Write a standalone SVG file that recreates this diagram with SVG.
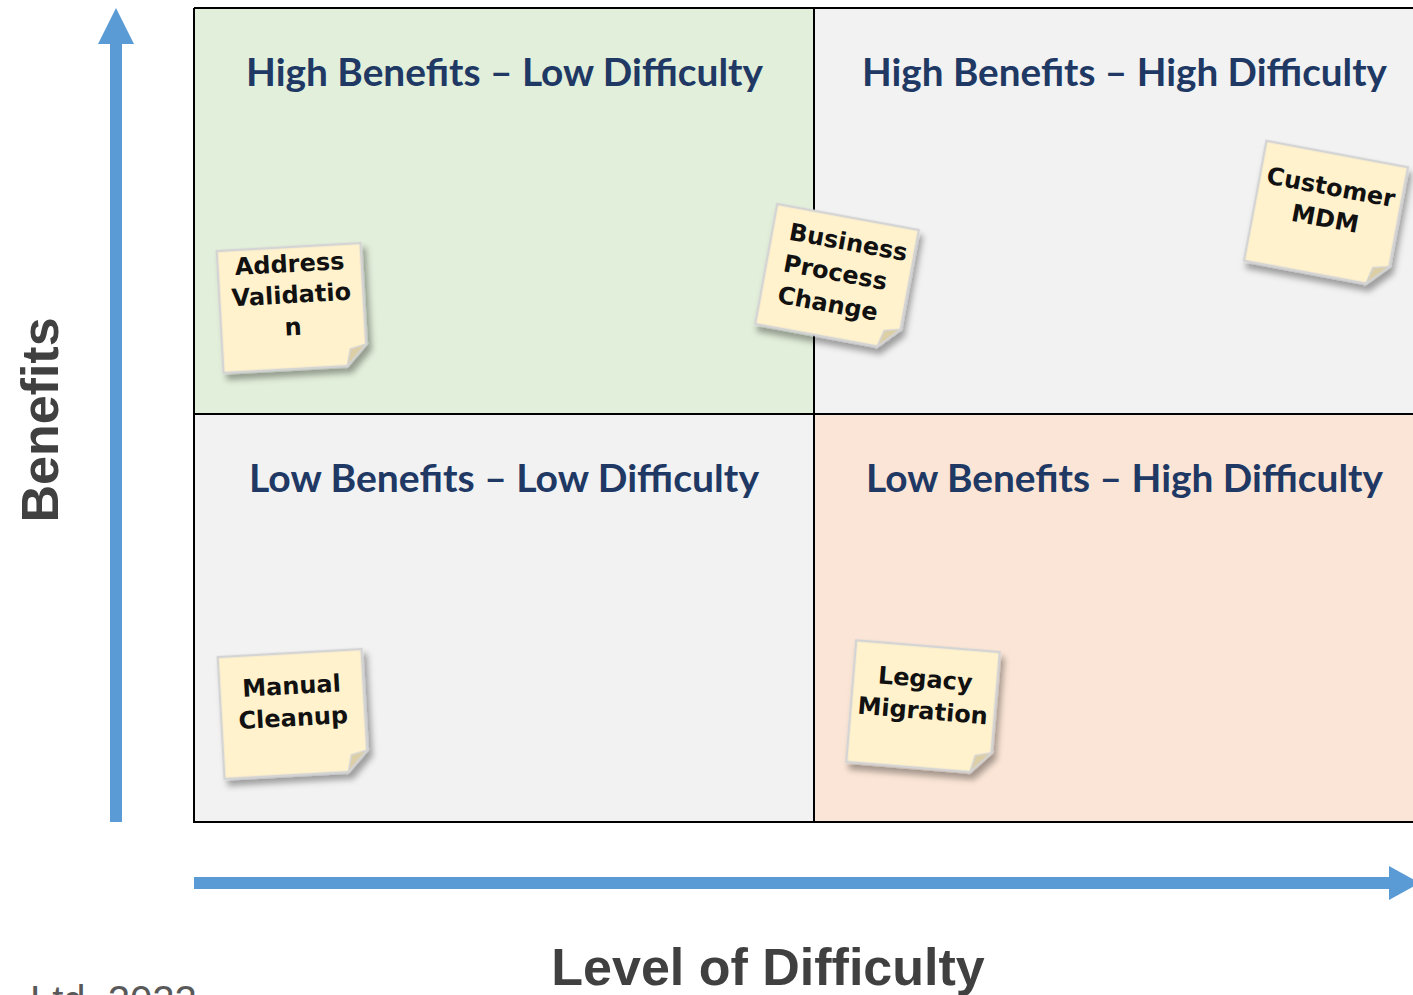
<svg xmlns="http://www.w3.org/2000/svg" width="1413" height="995" viewBox="0 0 1413 995">
<defs>
<style>
.title{font-family:Lato,"Liberation Sans",sans-serif;font-weight:bold;font-size:38px;fill:#203864;text-anchor:middle}
.axis{font-family:"Liberation Sans",Arial,sans-serif;font-weight:bold;font-size:52px;fill:#404040;text-anchor:middle}
.note{fill:#FFF2CC;stroke:#D4D4D4;stroke-width:2.5}
.fold{fill:#DCCFA6;stroke:#D4D4D4;stroke-width:1.5}
.nt{font-family:"DejaVu Sans",sans-serif;font-weight:bold;font-size:24px;fill:#111;text-anchor:middle}
.ntl{font-family:"DejaVu Sans",sans-serif;font-weight:bold;font-size:24px;fill:#111;text-anchor:start}
.grid{stroke:#000;stroke-width:2;fill:none}
.arrow{fill:#5B9BD5}
</style>
<filter id="sh" x="-20%" y="-20%" width="150%" height="150%">
<feDropShadow dx="4" dy="6" stdDeviation="3" flood-color="#000" flood-opacity="0.35"/>
</filter>
<g id="noteShape">
<path class="note" d="M-72,-61 L72,-61 L72,40 L52,61 L-72,61 Z"/>
<path class="fold" d="M72,40 L52,61 L56,44 Z"/>
</g>
</defs>
<rect width="1413" height="995" fill="#fff"/>
<g id="quadrants">
<rect x="194" y="8" width="620" height="406" fill="#E2EFDA"/>
<rect x="814" y="8" width="610" height="406" fill="#F2F2F2"/>
<rect x="194" y="414" width="620" height="408" fill="#F2F2F2"/>
<rect x="814" y="414" width="610" height="408" fill="#FBE5D6"/>
<path class="grid" d="M194,8 H1420 M194,8 V822 H1420 M814,8 V822 M194,414 H1420"/>
</g>
<g id="titles">
<text class="title" x="504.5" y="86" textLength="517" lengthAdjust="spacingAndGlyphs">High Benefits – Low Difficulty</text>
<text class="title" x="1124.5" y="86" textLength="525" lengthAdjust="spacingAndGlyphs">High Benefits – High Difficulty</text>
<text class="title" x="504" y="492" textLength="510" lengthAdjust="spacingAndGlyphs">Low Benefits – Low Difficulty</text>
<text class="title" x="1124.5" y="492" textLength="517" lengthAdjust="spacingAndGlyphs">Low Benefits – High Difficulty</text>
</g>
<g id="connectors">
<path class="arrow" d="M110,822 V44 H98 L116,8 L134,44 H122 V822 Z"/>
<path class="arrow" d="M194,877 H1389 V866 L1420,883 L1389,900 V889 H194 Z"/>
</g>
<g id="axis-labels">
<text class="axis" transform="translate(58,420) rotate(-90)">Benefits</text>
<text class="axis" x="768" y="985">Level of Difficulty</text>
<text x="30" y="1014" font-family="Liberation Sans,Arial,sans-serif" font-size="40" fill="#595959">Ltd. 2022</text>
</g>
<g id="note-address" transform="translate(292,308) rotate(-3.2)">
<use href="#noteShape" filter="url(#sh)"/>
<text class="nt" x="0" y="-36">Address</text>
<text class="nt" x="0" y="-5">Validatio</text>
<text class="nt" x="0" y="27">n</text>
</g>
<g id="note-business" transform="translate(837,277) rotate(10.4)">
<use href="#noteShape" filter="url(#sh)"/>
<text class="ntl" x="-55" y="-28">Business</text>
<text class="ntl" x="-55" y="4">Process</text>
<text class="ntl" x="-55" y="36">Change</text>
</g>
<g id="note-customer" transform="translate(1326,214) rotate(10.6)">
<use href="#noteShape" filter="url(#sh)"/>
<text class="nt" x="0" y="-19">Customer</text>
<text class="nt" x="0" y="13">MDM</text>
</g>
<g id="note-manual" transform="translate(293,714) rotate(-3.2)">
<use href="#noteShape" filter="url(#sh)"/>
<text class="nt" x="0" y="-20">Manual</text>
<text class="nt" x="0" y="12">Cleanup</text>
</g>
<g id="note-legacy" transform="translate(923,707) rotate(4.7)">
<use href="#noteShape" filter="url(#sh)"/>
<text class="nt" x="0" y="-20">Legacy</text>
<text class="nt" x="0" y="12">Migration</text>
</g>
</svg>
